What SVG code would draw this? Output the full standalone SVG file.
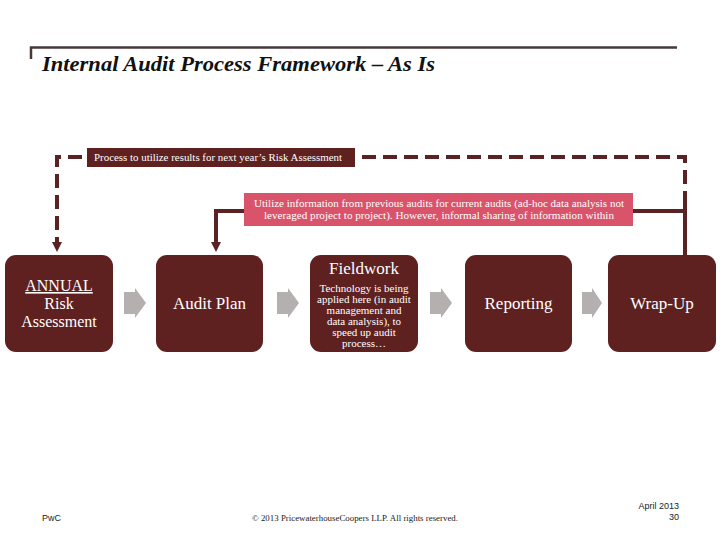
<svg xmlns="http://www.w3.org/2000/svg" width="720" height="540" viewBox="0 0 720 540">
<defs>
<style>
.node{fill:#5e2120}
.arr{fill:#b5b0b0}
.t{fill:#fff;text-anchor:middle}
.big{font-size:17px}
.sm{font-size:11px}
.lbl{fill:#fff;font-size:10.5px}
.foot{font-family:"Liberation Sans",Arial,sans-serif;font-size:9px;fill:#222}
</style>
</defs>
<rect width="720" height="540" fill="#fff"/>
<g id="title">
<path d="M31,59 V47.5 H677" fill="none" stroke="#4a3838" stroke-width="2.5"/>
<text x="42" y="71" font-family="'Liberation Serif',serif" font-style="italic" font-weight="bold" font-size="20" fill="#111" textLength="393" lengthAdjust="spacingAndGlyphs">Internal Audit Process Framework – As Is</text>
</g>
<g id="connectors" fill="none" stroke="#5a2222">
<path d="M685,205 V157 H57 V240" stroke-width="4" stroke-dasharray="14,7"/>
<path d="M57,238 V243" stroke-width="4"/>
<polygon points="52,242 62,242 57,252" fill="#5a2222" stroke="none"/>
<path d="M685,204 V256" stroke-width="4"/>
<path d="M244,211 H216 V243" stroke-width="4"/>
<polygon points="211,242 221,242 216,252" fill="#5a2222" stroke="none"/>
<path d="M633,211 H685" stroke-width="4"/>
</g>
<g id="label-process" font-family="'Liberation Serif',serif">
<rect x="87" y="148" width="268" height="19" fill="#5e2120"/>
<text x="94" y="161" class="lbl" textLength="248" lengthAdjust="spacingAndGlyphs">Process to utilize results for next year’s Risk Assessment</text>
</g>
<g id="label-utilize" font-family="'Liberation Serif',serif">
<rect x="244" y="193" width="389" height="33" fill="#d9536a"/>
<text x="439" y="207" class="t" font-size="10.5" textLength="370" lengthAdjust="spacingAndGlyphs">Utilize information from previous audits for current audits (ad-hoc data analysis not</text>
<text x="439" y="219" class="t" font-size="10.5" textLength="350" lengthAdjust="spacingAndGlyphs">leveraged project to project). However, informal sharing of information within</text>
</g>
<g id="node-risk" font-family="'Liberation Serif',serif">
<rect x="5" y="255" width="108" height="97" rx="11" class="node"/>
<text x="59" y="291" class="t" font-size="16" text-decoration="underline">ANNUAL</text>
<text x="59" y="309" class="t" font-size="16">Risk</text>
<text x="59" y="327" class="t" font-size="16">Assessment</text>
</g>
<g id="node-plan" font-family="'Liberation Serif',serif">
<rect x="156" y="255" width="107" height="97" rx="11" class="node"/>
<text x="209.5" y="309" class="t big">Audit Plan</text>
</g>
<g id="node-fieldwork" font-family="'Liberation Serif',serif">
<rect x="310" y="255" width="108" height="97" rx="11" class="node"/>
<text x="364" y="274" class="t big">Fieldwork</text>
<text x="364" y="292" class="t sm">Technology is being</text>
<text x="364" y="303" class="t sm">applied here (in audit</text>
<text x="364" y="314" class="t sm">management and</text>
<text x="364" y="325" class="t sm">data analysis), to</text>
<text x="364" y="336" class="t sm">speed up  audit</text>
<text x="364" y="347" class="t sm">process…</text>
</g>
<g id="node-reporting" font-family="'Liberation Serif',serif">
<rect x="465" y="255" width="107" height="97" rx="11" class="node"/>
<text x="518.5" y="309" class="t big">Reporting</text>
</g>
<g id="node-wrapup" font-family="'Liberation Serif',serif">
<rect x="608" y="255" width="108" height="97" rx="11" class="node"/>
<text x="662" y="309" class="t big">Wrap-Up</text>
</g>
<g id="flow-arrows">
<polygon class="arr" points="124,292 135,292 135,288 146,303 135,318 135,314 124,314"/>
<polygon class="arr" points="277,292 288,292 288,288 299,303 288,318 288,314 277,314"/>
<polygon class="arr" points="430,292 441,292 441,288 452,303 441,318 441,314 430,314"/>
<polygon class="arr" points="582,292 592,292 592,288 602,303 592,318 592,314 582,314"/>
</g>
<g id="footer">
<text x="42" y="521" class="foot">PwC</text>
<text x="252" y="521" font-family="'Liberation Serif',serif" font-size="8.5" fill="#222" textLength="206" lengthAdjust="spacingAndGlyphs">© 2013 PricewaterhouseCoopers LLP. All rights reserved.</text>
<text x="679" y="509" class="foot" text-anchor="end">April 2013</text>
<text x="679" y="520" class="foot" text-anchor="end">30</text>
</g>
</svg>
